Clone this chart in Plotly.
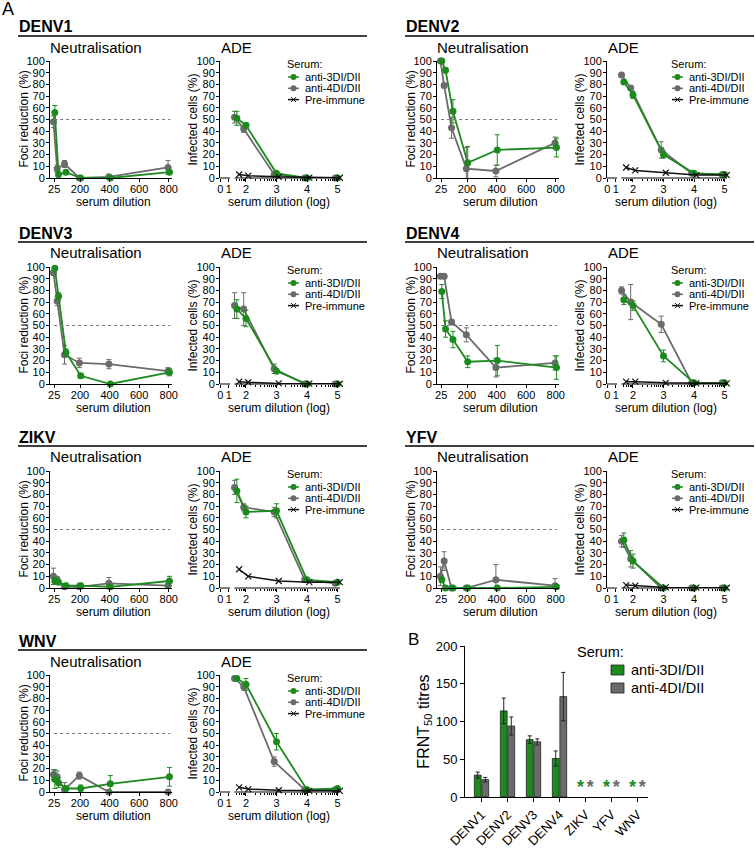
import math
import plotly.graph_objects as go

# ---------------- data ----------------
VIRUSES = ["DENV1", "DENV2", "DENV3", "DENV4", "ZIKV", "YFV", "WNV"]
SERIES = ["anti-3DI/DII", "anti-4DI/DII", "Pre-immune"]

NEUT_DILUTION = [25, 50, 100, 200, 400, 800]
NEUT_TICKS = [25, 200, 400, 600, 800]
ADE_LOG_DILUTION = [1.7, 2, 3, 4, 5]
ADE_TICK_VALS = [1.16, 1.44, 2, 3, 4, 5]   # "0" and "1" sit on the broken-off axis stub
ADE_TICK_TEXT = ["0", "1", "2", "3", "4", "5"]
PCT_TICKS = list(range(0, 101, 10))
THRESHOLD = 50

# Neutralisation: foci reduction (%)
DENV1_NEUT_3DI = [56, 3, 5, 0, 0, 5]
DENV1_NEUT_3DI_ERR = [6, 2, 1, 0, 1, 2]
DENV1_NEUT_4DI = [48, 8, 12, 0, 1, 9]
DENV1_NEUT_4DI_ERR = [5, 3, 3, 0, 1, 6]
DENV2_NEUT_3DI = [100, 92, 57, 13, 24, 26]
DENV2_NEUT_3DI_ERR = [0, 2, 10, 14, 13, 8]
DENV2_NEUT_4DI = [100, 79, 43, 8, 6, 30]
DENV2_NEUT_4DI_ERR = [0, 2, 9, 18, 5, 5]
DENV3_NEUT_3DI = [99, 75, 27, 7, 0, 10]
DENV3_NEUT_3DI_ERR = [1, 3, 3, 2, 0, 3]
DENV3_NEUT_4DI = [95, 71, 25, 18, 17, 11]
DENV3_NEUT_4DI_ERR = [2, 4, 8, 4, 4, 3]
DENV4_NEUT_3DI = [79, 47, 38, 19, 20, 14]
DENV4_NEUT_3DI_ERR = [6, 7, 7, 5, 13, 10]
DENV4_NEUT_4DI = [92, 92, 53, 42, 14, 18]
DENV4_NEUT_4DI_ERR = [1, 1, 2, 6, 8, 6]
ZIKV_NEUT_3DI = [6, 5, 2, 2, 1, 6]
ZIKV_NEUT_3DI_ERR = [3, 2, 2, 2, 1, 4]
ZIKV_NEUT_4DI = [10, 7, 1, 1, 4, 2]
ZIKV_NEUT_4DI_ERR = [7, 3, 2, 3, 5, 2]
YFV_NEUT_3DI = [7, 0, 0, 0, 0, 1]
YFV_NEUT_3DI_ERR = [2, 0, 0, 0, 0, 0]
YFV_NEUT_4DI = [10, 23, 0, 0, 7, 2]
YFV_NEUT_4DI_ERR = [8, 8, 0, 0, 13, 6]
WNV_NEUT_3DI = [11, 8, 3, 3, 7, 13]
WNV_NEUT_3DI_ERR = [8, 4, 2, 3, 7, 8]
WNV_NEUT_4DI = [15, 13, 2, 14, 0, 0]
WNV_NEUT_4DI_ERR = [4, 5, 6, 3, 0, 0]

# ADE: infected cells (%)
DENV1_ADE_3DI = [51, 45, 4, 0, 0]
DENV1_ADE_3DI_ERR = [6, 2, 1, 0, 0]
DENV1_ADE_4DI = [52, 42, 3, 0, 0]
DENV1_ADE_4DI_ERR = [5, 3, 1, 0, 0]
DENV1_ADE_PRE = [3, 2, 1, 0.3, 0.2]
DENV2_ADE_3DI = [82, 71, 20, 4, 3]
DENV2_ADE_3DI_ERR = [2, 3, 3, 1, 1]
DENV2_ADE_4DI = [88, 77, 24, 4, 3]
DENV2_ADE_4DI_ERR = [2, 2, 7, 1, 1]
DENV2_ADE_PRE = [9, 6.5, 4.5, 2.5, 2.5]
DENV3_ADE_3DI = [64, 56, 11, 0, 0]
DENV3_ADE_3DI_ERR = [8, 7, 2, 0, 0]
DENV3_ADE_4DI = [67, 64, 13, 0, 0]
DENV3_ADE_4DI_ERR = [11, 14, 4, 0, 0]
DENV3_ADE_PRE = [2, 1.5, 0.5, 0.3, 0.2]
DENV4_ADE_3DI = [72, 67, 24, 1, 1]
DENV4_ADE_3DI_ERR = [4, 4, 5, 0, 0]
DENV4_ADE_4DI = [80, 70, 51, 1, 1]
DENV4_ADE_4DI_ERR = [3, 15, 7, 0, 0]
DENV4_ADE_PRE = [2, 2, 1, 0.5, 0.5]
ZIKV_ADE_3DI = [83, 65, 66, 7, 5]
ZIKV_ADE_3DI_ERR = [10, 5, 6, 1, 1]
ZIKV_ADE_4DI = [86, 69, 65, 7, 4]
ZIKV_ADE_4DI_ERR = [6, 3, 4, 1, 1]
ZIKV_ADE_PRE = [16, 10, 6, 5, 5]
YFV_ADE_3DI = [41, 23, 0, 0, 0]
YFV_ADE_3DI_ERR = [6, 6, 0, 0, 0]
YFV_ADE_4DI = [40, 25, 0, 0, 0]
YFV_ADE_4DI_ERR = [5, 7, 0, 0, 0]
YFV_ADE_PRE = [2.5, 2, 0.5, 0.3, 0.2]
WNV_ADE_3DI = [97, 92, 43, 2, 3]
WNV_ADE_3DI_ERR = [1, 5, 7, 1, 1]
WNV_ADE_4DI = [97, 90, 26, 2, 2]
WNV_ADE_4DI_ERR = [1, 3, 4, 1, 1]
WNV_ADE_PRE = [4, 2.5, 1.5, 1, 1]

# Panel B: FRNT50 titres (None = not detected, marked with *)
FRNT_3DI = [29, 114, 76, 51, None, None, None]
FRNT_3DI_ERR = [4, 17, 5, 10, 0, 0, 0]
FRNT_4DI = [23, 94, 73, 133, None, None, None]
FRNT_4DI_ERR = [3, 12, 4, 32, 0, 0, 0]
FRNT_TICKS = [0, 50, 100, 150, 200]

NEUT_3DI = [DENV1_NEUT_3DI, DENV2_NEUT_3DI, DENV3_NEUT_3DI, DENV4_NEUT_3DI, ZIKV_NEUT_3DI, YFV_NEUT_3DI, WNV_NEUT_3DI]
NEUT_3DI_ERR = [DENV1_NEUT_3DI_ERR, DENV2_NEUT_3DI_ERR, DENV3_NEUT_3DI_ERR, DENV4_NEUT_3DI_ERR, ZIKV_NEUT_3DI_ERR, YFV_NEUT_3DI_ERR, WNV_NEUT_3DI_ERR]
NEUT_4DI = [DENV1_NEUT_4DI, DENV2_NEUT_4DI, DENV3_NEUT_4DI, DENV4_NEUT_4DI, ZIKV_NEUT_4DI, YFV_NEUT_4DI, WNV_NEUT_4DI]
NEUT_4DI_ERR = [DENV1_NEUT_4DI_ERR, DENV2_NEUT_4DI_ERR, DENV3_NEUT_4DI_ERR, DENV4_NEUT_4DI_ERR, ZIKV_NEUT_4DI_ERR, YFV_NEUT_4DI_ERR, WNV_NEUT_4DI_ERR]
ADE_3DI = [DENV1_ADE_3DI, DENV2_ADE_3DI, DENV3_ADE_3DI, DENV4_ADE_3DI, ZIKV_ADE_3DI, YFV_ADE_3DI, WNV_ADE_3DI]
ADE_3DI_ERR = [DENV1_ADE_3DI_ERR, DENV2_ADE_3DI_ERR, DENV3_ADE_3DI_ERR, DENV4_ADE_3DI_ERR, ZIKV_ADE_3DI_ERR, YFV_ADE_3DI_ERR, WNV_ADE_3DI_ERR]
ADE_4DI = [DENV1_ADE_4DI, DENV2_ADE_4DI, DENV3_ADE_4DI, DENV4_ADE_4DI, ZIKV_ADE_4DI, YFV_ADE_4DI, WNV_ADE_4DI]
ADE_4DI_ERR = [DENV1_ADE_4DI_ERR, DENV2_ADE_4DI_ERR, DENV3_ADE_4DI_ERR, DENV4_ADE_4DI_ERR, ZIKV_ADE_4DI_ERR, YFV_ADE_4DI_ERR, WNV_ADE_4DI_ERR]
ADE_PRE = [DENV1_ADE_PRE, DENV2_ADE_PRE, DENV3_ADE_PRE, DENV4_ADE_PRE, ZIKV_ADE_PRE, YFV_ADE_PRE, WNV_ADE_PRE]

# ---------------- styling / layout ----------------
W, H = 756, 850
GREEN = "#1d8a1f"
GREY = "#6b6b6b"
BLACK = "#111111"
FONT = "Arial, 'Liberation Sans', sans-serif"
TICK_FONT = "'Liberation Sans Narrow', 'Arial Narrow', Arial, 'Liberation Sans', sans-serif"
ROW_Y100 = [61, 267, 471, 675]
PLOT_H = 117
COL_DX = [0, 387]
LEG_DX = [0, 384]
TICK_SIZE = 11


def fx(p):
    return p / W


def fy(p):
    return 1 - p / H


def axname(n, letter):
    return f"{letter}axis" if n == 1 else f"{letter}axis{n}"


def axref(n, letter):
    return letter if n == 1 else f"{letter}{n}"


fig = go.Figure()
layout = dict(
    width=W, height=H, margin=dict(l=0, r=0, t=0, b=0),
    paper_bgcolor="white", plot_bgcolor="white",
    font=dict(family=FONT, color="black", size=11),
    showlegend=False, bargap=0.42, bargroupgap=0.1,
    scattermode="group", scattergap=0.25,
)
shapes = []
annotations = []
standoff_axes = []   # (axis name, standoff) pairs: pull tick labels slightly closer to the axis


def ann(text, x, y, size, xanchor="left", yanchor="middle", color="black", angle=0):
    annotations.append(dict(text=text, x=fx(x), y=fy(y), xref="paper", yref="paper",
                            xanchor=xanchor, yanchor=yanchor, showarrow=False, textangle=angle,
                            borderpad=0, font=dict(size=size, color=color, family=FONT)))


def pct_yaxis(y100):
    return dict(domain=[fy(y100 + PLOT_H), fy(y100)], range=[0, 100], tickvals=PCT_TICKS,
                showline=True, linecolor="black", linewidth=1, ticks="outside", ticklen=3,
                tickcolor="black", tickfont=dict(size=TICK_SIZE, family=TICK_FONT),
                showgrid=False, zeroline=False, automargin=False)


ann("A", 8, 9, 18, xanchor="center")

for i, virus in enumerate(VIRUSES):
    row, col = i // 2, i % 2
    dx = COL_DX[col]
    y100 = ROW_Y100[row]
    nn, na = 2 * i + 1, 2 * i + 2

    # headers
    ann(f"<b>{virus}</b>", 18 + dx, y100 - 34, 16)
    shapes.append(dict(type="line", xref="paper", yref="paper", x0=fx(18 + dx), x1=fx(367 + dx),
                       y0=fy(y100 - 25), y1=fy(y100 - 25), line=dict(color="black", width=1.3)))
    ann("Neutralisation", 96 + dx, y100 - 14, 15, xanchor="center")
    ann("ADE", 236 + dx, y100 - 14, 15, xanchor="center")

    # axis titles
    ann("Foci reduction (%)", 23 + dx, y100 + PLOT_H / 2, 12, xanchor="center", angle=-90)
    ann("Infected cells (%)", 192 + dx, y100 + PLOT_H / 2, 12, xanchor="center", angle=-90)
    ann("serum dilution", 113 + dx, y100 + 141, 12, xanchor="center")
    ann("serum dilution (log)", 279 + dx, y100 + 141, 12, xanchor="center")

    # Neutralisation axes
    layout[axname(nn, "x")] = dict(
        domain=[fx(50 + dx), fx(172 + dx)], range=[-3, 822], anchor=axref(nn, "y"),
        tickvals=NEUT_TICKS, showline=True, linecolor="black", linewidth=1, ticks="outside",
        ticklen=3, tickcolor="black", tickfont=dict(size=TICK_SIZE, family=TICK_FONT),
        showgrid=False, zeroline=False, automargin=False)
    layout[axname(nn, "y")] = dict(pct_yaxis(y100), anchor=axref(nn, "x"))

    # ADE axes (broken log axis)
    minor_vals = []
    for d in range(1, 5):
        for k in range(2, 10):
            v = d + math.log10(k)
            if 1.64 < v < 5:
                minor_vals.append(v)
    layout[axname(na, "x")] = dict(
        domain=[fx(220 + dx), fx(340 + dx)], range=[1.148, 5.082], anchor=axref(na, "y"),
        tickvals=ADE_TICK_VALS, ticktext=ADE_TICK_TEXT, showline=False, ticks="outside",
        ticklen=3, tickcolor="black", tickfont=dict(size=TICK_SIZE, family=TICK_FONT),
        showgrid=False, zeroline=False,
        minor=dict(tickvals=minor_vals, ticks="outside", ticklen=2, tickcolor="black"),
        automargin=False)
    layout[axname(na, "y")] = dict(pct_yaxis(y100), anchor=axref(na, "x"))
    standoff_axes += [(axname(nn, "x"), -2), (axname(na, "x"), -2),
                      (axname(nn, "y"), -1), (axname(na, "y"), -1)]
    for x0, x1 in [(1.148, 1.48), (1.62, 5.082)]:
        shapes.append(dict(type="line", xref=axref(na, "x"), yref=f"{axref(na, 'y')} domain",
                           x0=x0, x1=x1, y0=0, y1=0, line=dict(color="black", width=1)))

    # threshold line
    shapes.append(dict(type="line", xref=axref(nn, "x"), yref=axref(nn, "y"), x0=25, x1=810,
                       y0=THRESHOLD, y1=THRESHOLD, line=dict(color="#777777", width=1, dash="dot")))

    # Neutralisation traces
    for vals, err, colr in [(NEUT_4DI[i], NEUT_4DI_ERR[i], GREY), (NEUT_3DI[i], NEUT_3DI_ERR[i], GREEN)]:
        fig.add_trace(go.Scatter(
            x=NEUT_DILUTION, y=vals, mode="lines+markers",
            error_y=dict(type="data", array=err, color=colr, thickness=1, width=2.5),
            marker=dict(size=7, color=colr), line=dict(color=colr, width=1.8),
            xaxis=axref(nn, "x"), yaxis=axref(nn, "y"), cliponaxis=False))

    # ADE traces
    for vals, err, colr in [(ADE_4DI[i], ADE_4DI_ERR[i], GREY), (ADE_3DI[i], ADE_3DI_ERR[i], GREEN)]:
        fig.add_trace(go.Scatter(
            x=ADE_LOG_DILUTION, y=vals, mode="lines+markers",
            error_y=dict(type="data", array=err, color=colr, thickness=1, width=2.5),
            marker=dict(size=7, color=colr), line=dict(color=colr, width=1.8),
            xaxis=axref(na, "x"), yaxis=axref(na, "y"), cliponaxis=False))
    fig.add_trace(go.Scatter(
        x=ADE_LOG_DILUTION, y=ADE_PRE[i], mode="lines+markers",
        marker=dict(symbol="x-thin", size=6, color=BLACK, line=dict(width=1.2, color=BLACK)),
        line=dict(color=BLACK, width=1.5),
        xaxis=axref(na, "x"), yaxis=axref(na, "y"), cliponaxis=False))

    # legend inside ADE panel
    lx = 286 + LEG_DX[col]
    ann("Serum:", lx, y100 + 3, 11)
    for j, (name, colr) in enumerate(zip(SERIES, [GREEN, GREY, BLACK])):
        yy = y100 + 16 + j * 11.3
        shapes.append(dict(type="line", xref="paper", yref="paper", x0=fx(lx + 2), x1=fx(lx + 13),
                           y0=fy(yy), y1=fy(yy), line=dict(color=colr, width=1.5)))
        if j < 2:
            shapes.append(dict(type="circle", xref="paper", yref="paper", x0=fx(lx + 4.5), x1=fx(lx + 10.5),
                               y0=fy(yy - 3), y1=fy(yy + 3), fillcolor=colr, line=dict(color=colr, width=0)))
        else:
            for s in (1, -1):
                shapes.append(dict(type="line", xref="paper", yref="paper", x0=fx(lx + 5), x1=fx(lx + 10),
                                   y0=fy(yy - 2.5 * s), y1=fy(yy + 2.5 * s), line=dict(color=colr, width=1)))
        ann(name, lx + 18, yy, 11)

# ---------------- panel B ----------------
nb = 15
ann("B", 413, 639, 17, xanchor="center")
layout[axname(nb, "x")] = dict(
    domain=[fx(465), fx(648)], range=[-0.635, 6.404], anchor=axref(nb, "y"), type="category",
    categoryorder="array", categoryarray=VIRUSES, showline=True, linecolor="black", linewidth=1,
    ticks="outside", ticklen=4, tickcolor="black", tickangle=-45, tickfont=dict(size=13),
    showgrid=False, zeroline=False, automargin=False)
layout[axname(nb, "y")] = dict(
    domain=[fy(797), fy(646)], range=[0, 200], tickvals=FRNT_TICKS, anchor=axref(nb, "x"),
    showline=True, linecolor="black", linewidth=1, ticks="outside", ticklen=4, tickcolor="black",
    tickfont=dict(size=13), showgrid=False, zeroline=False, automargin=False,
    title=dict(text="FRNT<sub>50</sub> titres", font=dict(size=16), standoff=2))

for vals, err, colr, name in [(FRNT_3DI, FRNT_3DI_ERR, GREEN, SERIES[0]),
                              (FRNT_4DI, FRNT_4DI_ERR, GREY, SERIES[1])]:
    fig.add_trace(go.Bar(
        x=VIRUSES, y=vals, name=name, marker=dict(color=colr, line=dict(color="#222222", width=0.8)),
        error_y=dict(type="data", array=err, color="#222222", thickness=1, width=2),
        xaxis=axref(nb, "x"), yaxis=axref(nb, "y")))
    nd_x = [v for v, t in zip(VIRUSES, vals) if t is None]
    fig.add_trace(go.Scatter(
        x=nd_x, y=[0] * len(nd_x), mode="text", text=["*"] * len(nd_x), textposition="top center",
        textfont=dict(size=18, color=colr, family=FONT, weight="bold"),
        offsetgroup=name, alignmentgroup="nd", cliponaxis=False,
        xaxis=axref(nb, "x"), yaxis=axref(nb, "y")))

ann("Serum:", 576, 652, 14.5)
for j, (name, colr) in enumerate(zip(SERIES[:2], [GREEN, GREY])):
    yy = 670 + j * 18
    shapes.append(dict(type="rect", xref="paper", yref="paper", x0=fx(611), x1=fx(624),
                       y0=fy(yy - 5), y1=fy(yy + 5), fillcolor=colr, line=dict(color="#222222", width=0.8)))
    ann(name, 630, yy, 14.5)

layout["shapes"] = shapes
layout["annotations"] = annotations
fig.update_layout(**layout)
for axn, so in standoff_axes:
    try:
        fig.update_layout({axn: dict(ticklabelstandoff=so)})
    except (ValueError, TypeError):
        pass
fig.write_html("out.html", config={"displayModeBar": False},
               post_script="document.body.style.margin='0';document.body.style.overflow='hidden';")
